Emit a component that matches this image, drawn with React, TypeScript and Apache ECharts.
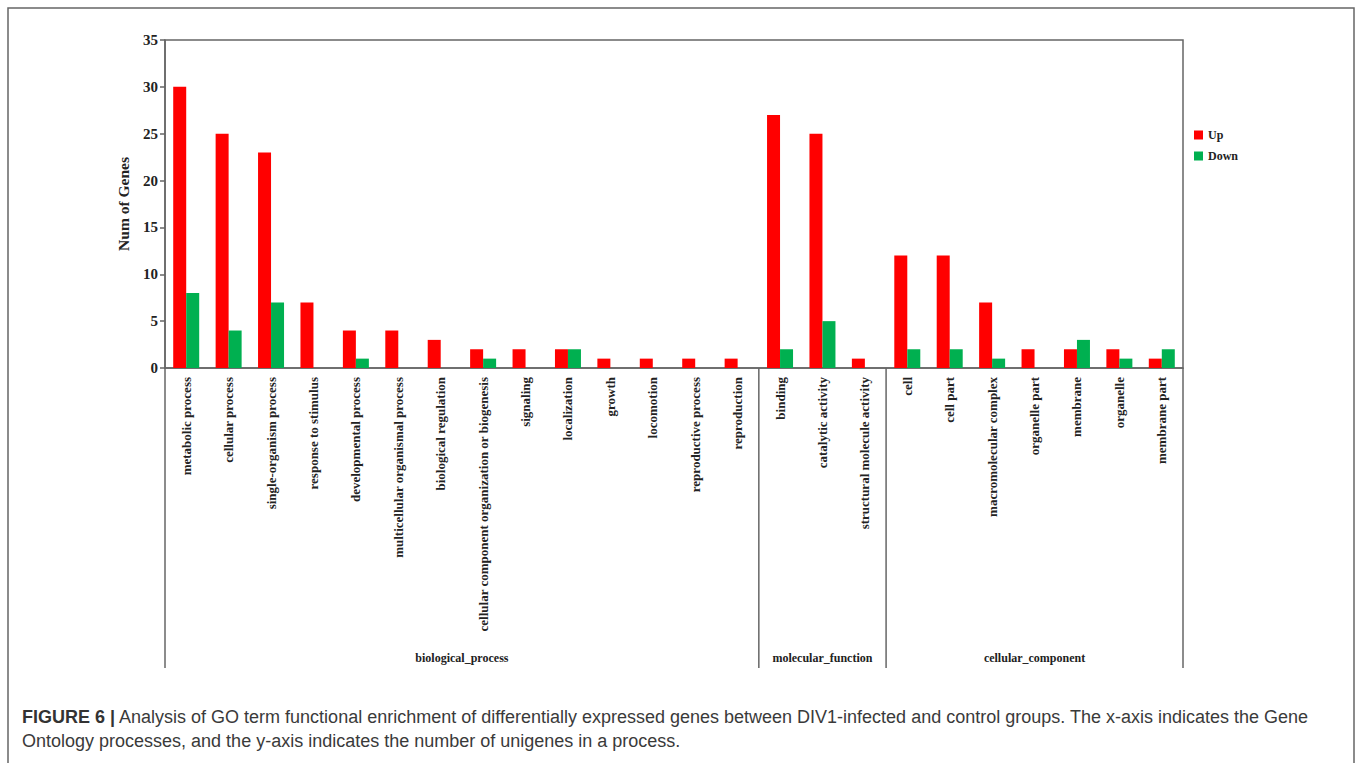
import React, { useEffect, useRef } from "react";
import * as echarts from "echarts";

// GO terms along the x axis, grouped by ontology
const categories = [
  "metabolic process",
  "cellular process",
  "single-organism process",
  "response to stimulus",
  "developmental process",
  "multicellular organismal process",
  "biological regulation",
  "cellular component organization or biogenesis",
  "signaling",
  "localization",
  "growth",
  "locomotion",
  "reproductive process",
  "reproduction",
  "binding",
  "catalytic activity",
  "structural molecule activity",
  "cell",
  "cell part",
  "macromolecular complex",
  "organelle part",
  "membrane",
  "organelle",
  "membrane part",
];

const upValues = [30, 25, 23, 7, 4, 4, 3, 2, 2, 2, 1, 1, 1, 1, 27, 25, 1, 12, 12, 7, 2, 2, 2, 1];
const downValues = [8, 4, 7, 0, 1, 0, 0, 1, 0, 2, 0, 0, 0, 0, 2, 5, 0, 2, 2, 1, 0, 3, 1, 2];

// ontology groups: name and number of terms in each
const groupNames = ["biological_process", "molecular_function", "cellular_component"];
const groupSizes = [14, 3, 7];

const yTicks = { min: 0, max: 35, interval: 5 };

const captionLine1 =
  "Analysis of GO term functional enrichment of differentially expressed genes between DIV1-infected and control groups. The x-axis indicates the Gene";
const captionLine2 =
  "Ontology processes, and the y-axis indicates the number of unigenes in a process.";

const SERIF = '"Liberation Serif", "Times New Roman", serif';
const SANS = '"Liberation Sans", Arial, sans-serif';
const AXIS_GREY = "#666666";

export default function App() {
  const ref = useRef<HTMLDivElement>(null);

  useEffect(() => {
    if (!ref.current) return;
    const chart = echarts.init(ref.current, undefined, { renderer: "svg" });

    const gridLeft = 165;
    const gridRight = 174;
    const gridTop = 40;
    const gridBottom = 395;

    chart.setOption({
      animation: false,
      backgroundColor: "#ffffff",
      grid: {
        left: gridLeft,
        right: gridRight,
        top: gridTop,
        bottom: gridBottom,
        show: true,
        borderColor: AXIS_GREY,
        borderWidth: 1.5,
        backgroundColor: "transparent",
      },
      legend: {
        data: ["Up", "Down"],
        orient: "vertical",
        left: 1189,
        top: 124,
        itemWidth: 9,
        itemHeight: 9,
        itemGap: 9,
        icon: "rect",
        textStyle: { fontFamily: SERIF, fontWeight: "bold", fontSize: 12, color: "#222" },
      },
      xAxis: {
        type: "category",
        data: categories,
        axisLine: { lineStyle: { color: AXIS_GREY, width: 1.5 } },
        axisTick: { show: false },
        axisLabel: {
          interval: 0,
          rotate: 90,
          margin: 9,
          fontFamily: SERIF,
          fontWeight: "bold",
          fontSize: 13,
          color: "#222",
        },
      },
      yAxis: {
        type: "value",
        min: yTicks.min,
        max: yTicks.max,
        interval: yTicks.interval,
        name: "Num of Genes",
        nameLocation: "middle",
        nameGap: 34,
        nameTextStyle: { fontFamily: SERIF, fontWeight: "bold", fontSize: 15.5, color: "#222" },
        axisLine: { show: true, lineStyle: { color: AXIS_GREY, width: 1.5 } },
        axisTick: { show: true, length: 5, lineStyle: { color: AXIS_GREY, width: 1.5 } },
        axisLabel: {
          margin: 7,
          fontFamily: SERIF,
          fontWeight: "bold",
          fontSize: 15,
          color: "#222",
        },
        splitLine: { show: false },
      },
      series: [
        {
          name: "Up",
          type: "bar",
          data: upValues,
          barWidth: 13,
          barGap: "0%",
          itemStyle: { color: "#ff0000" },
        },
        {
          name: "Down",
          type: "bar",
          data: downValues,
          barWidth: 13,
          barGap: "0%",
          itemStyle: { color: "#00b050" },
        },
      ],
    });

    // group brackets below the axis, placed from the category scale
    const centers = categories.map(
      (c) => chart.convertToPixel({ xAxisIndex: 0 }, c) as number
    );
    const band = centers[1] - centers[0];
    const axisY = 763 - gridBottom;
    const bracketBottom = 668;
    const bounds: number[] = [centers[0] - band / 2];
    let idx = 0;
    groupSizes.forEach((n) => {
      idx += n;
      bounds.push(centers[idx - 1] + band / 2);
    });

    const graphics: any[] = [];
    bounds.forEach((x) => {
      graphics.push({
        type: "line",
        silent: true,
        shape: { x1: x, y1: axisY, x2: x, y2: bracketBottom },
        style: { stroke: AXIS_GREY, lineWidth: 1.5 },
      });
    });
    groupNames.forEach((name, i) => {
      graphics.push({
        type: "text",
        silent: true,
        x: (bounds[i] + bounds[i + 1]) / 2,
        y: 658,
        style: {
          text: name,
          align: "center",
          verticalAlign: "middle",
          fontFamily: SERIF,
          fontWeight: "bold",
          fontSize: 12,
          fill: "#222",
        },
      });
    });

    // figure frame and caption
    graphics.push({
      type: "rect",
      silent: true,
      shape: { x: 8, y: 8, width: 1346, height: 800 },
      style: { fill: "none", stroke: AXIS_GREY, lineWidth: 1.5 },
    });
    graphics.push({
      type: "text",
      silent: true,
      x: 22,
      y: 717,
      style: {
        text: "{b|FIGURE 6 |} " + captionLine1,
        verticalAlign: "middle",
        fontFamily: SANS,
        fontSize: 18,
        fill: "#3a3a3a",
        rich: {
          b: { fontFamily: SANS, fontSize: 18, fontWeight: "bold", fill: "#333" },
        },
      },
    });
    graphics.push({
      type: "text",
      silent: true,
      x: 22,
      y: 741,
      style: {
        text: captionLine2,
        verticalAlign: "middle",
        fontFamily: SANS,
        fontSize: 18,
        fill: "#3a3a3a",
      },
    });

    chart.setOption({ graphic: graphics });

    return () => chart.dispose();
  }, []);

  return (
    <div
      ref={ref}
      style={{ position: "absolute", left: 0, top: 0, width: 1357, height: 763 }}
    />
  );
}
